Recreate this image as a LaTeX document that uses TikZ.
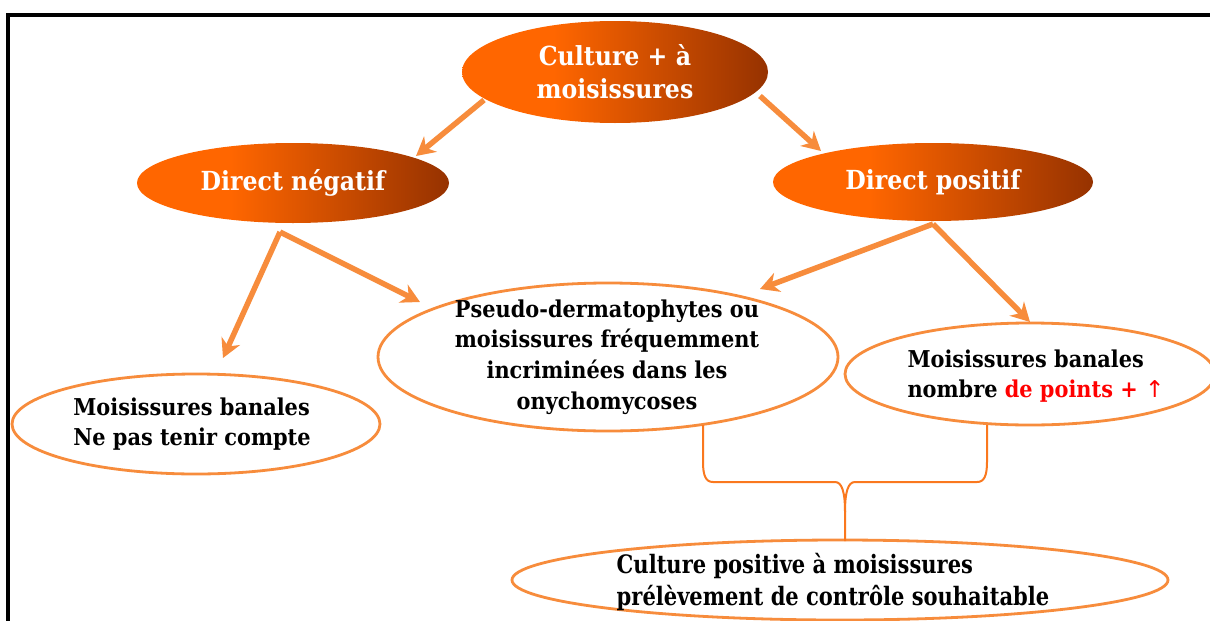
\documentclass[tikz,border=0pt]{standalone}
\usepackage{fontspec}
\setmainfont{DejaVu Serif}[FakeStretch=0.9]
\newfontfamily\condfont{DejaVu Serif}[FakeStretch=0.83]
\newfontfamily\symfont{DejaVu Sans}
\usetikzlibrary{shapes.geometric,arrows.meta}
\definecolor{arr}{RGB}{247,140,60}
\definecolor{brc}{RGB}{250,120,30}
\definecolor{oA}{RGB}{255,102,0}
\definecolor{oB}{RGB}{150,50,0}
\definecolor{ptred}{RGB}{255,0,0}
\pgfdeclarehorizontalshading{orgrad}{100bp}{color(0bp)=(oA); color(25bp)=(oA); color(40bp)=(oA); color(75bp)=(oB); color(100bp)=(oB)}
\tikzset{
  solidell/.style={ellipse, inner sep=0pt, shading=orgrad, draw=none},
  hollowell/.style={ellipse, inner sep=0pt, draw=arr, line width=2.1pt, fill=white},
  link/.style={draw=arr, line width=4.1pt, -{Stealth[length=14pt,width=15pt,inset=4.5pt]}},
  bracepath/.style={draw=brc, line width=1.5pt},
  wtext/.style={text=white, align=center, inner sep=0pt, font=\bfseries\fontsize{19.7}{24.5}\selectfont},
  btext/.style={text=black, align=left, inner sep=0pt, font=\bfseries\fontsize{17.4}{23}\selectfont},
  ctext/.style={text=black, align=left, inner sep=0pt, font=\condfont\bfseries\fontsize{19}{23.3}\selectfont},
}
\begin{document}
\begin{tikzpicture}[x=0.75pt, y=-0.75pt]
\useasboundingbox (0,0) rectangle (1210,621);
\clip (0,0) rectangle (1210,621);
\fill[white] (0,0) rectangle (1210,621);
% frame
\draw[black, line width=2.4pt] (8,640) -- (8,15) -- (1230,15);

% nodes
\node[solidell, minimum width={306*0.75pt}, minimum height={102*0.75pt}] (top) at (615,72) {};
\node[wtext] (toptxt) at (top.center) {Culture + à\\moisissures};

\node[solidell, minimum width={312*0.75pt}, minimum height={80*0.75pt}] (dn) at (293,183) {};
\node[wtext] (dntxt) at (dn.center) {Direct négatif};

\node[solidell, minimum width={320*0.75pt}, minimum height={78*0.75pt}] (dp) at (933,182) {};
\node[wtext] (dptxt) at (dp.center) {Direct positif};

\node[hollowell, minimum width={460*0.75pt}, minimum height={148*0.75pt}] (pseudo) at (608,357) {};
\node[btext, align=center] (pseudotxt) at (607,357) {Pseudo-dermatophytes ou\\moisissures fréquemment\\incriminées dans les\\onychomycoses};

\node[hollowell, minimum width={370*0.75pt}, minimum height={102*0.75pt}] (rb) at (1030,374) {};
\node[btext] (rbtxt) at (1036,376) {Moisissures banales\\nombre \textcolor{ptred}{de points + {\symfont\mdseries ↑}}};

\node[hollowell, minimum width={368*0.75pt}, minimum height={100*0.75pt}] (lb) at (196,424) {};
\node[btext] (lbtxt) at (192,424) {Moisissures banales\\Ne pas tenir compte};

\node[hollowell, minimum width={656*0.75pt}, minimum height={80*0.75pt}] (bot) at (840,580) {};
\node[ctext] (bottxt) at (833,582) {Culture positive à moisissures\\prélèvement de contrôle souhaitable};

% connector end points
\coordinate (topL) at (484,100);
\coordinate (topR) at (760,96);
\coordinate (dnT) at (416,156);
\coordinate (dpT) at (821,151);
\coordinate (dnfoot) at (280,232);
\coordinate (dpfoot) at (933,224);
\coordinate (lbT) at (223,358);
\coordinate (psL) at (420,302);
\coordinate (psR) at (760,289);
\coordinate (rbT) at (1030,322);

\draw[link] (topL) -- (dnT);
\draw[link] (topR) -- (dpT);
\draw[link] (dnfoot) -- (lbT);
\draw[link] (dnfoot) -- (psL);
\draw[link] (dpfoot) -- (psR);
\draw[link] (dpfoot) -- (rbT);

% brace
\coordinate (brL) at (703,425);
\coordinate (brR) at (987,425);
\coordinate (brTip) at (845,512);
\coordinate (brBot) at (845,541);
\draw[bracepath] (brL) -- (703,462) .. controls (703,476) and (706,482) .. (713,482) -- (835,482) .. controls (842,482) and (845,492) .. (brTip) -- (brBot);
\draw[bracepath] (brR) -- (987,462) .. controls (987,476) and (984,482) .. (977,482) -- (855,482) .. controls (848,482) and (845,492) .. (brTip);
\end{tikzpicture}
\end{document}
